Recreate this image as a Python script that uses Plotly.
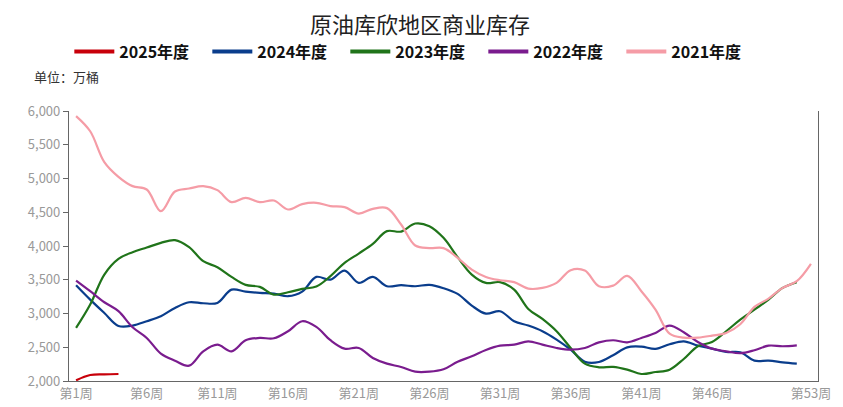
import plotly.graph_objects as go

weeks = list(range(1, 54))
tick_weeks = [1, 6, 11, 16, 21, 26, 31, 36, 41, 46, 53]
tick_labels = [f"第{w}周" for w in tick_weeks]
boundary_ticks = [0.5, 5.5, 10.5, 15.5, 20.5, 25.5, 30.5, 35.5, 40.5, 45.5, 50.5, 53.5]

y2025 = [2010, 2089, 2099, 2104]
y2024 = [3419, 3206, 3008, 2816, 2821, 2885, 2959, 3083, 3167, 3152, 3157, 3354, 3324,
         3305, 3295, 3256, 3324, 3542, 3502, 3636, 3453, 3542, 3404, 3419, 3404, 3424,
         3375, 3290, 3117, 2998, 3034, 2885, 2821, 2737, 2613, 2464, 2286, 2282, 2381,
         2499, 2509, 2475, 2544, 2588, 2524, 2479, 2430, 2426, 2301, 2301, 2277, 2257]
y2023 = [2786, 3132, 3577, 3809, 3908, 3977, 4047, 4087, 3983, 3775, 3686, 3542, 3424,
         3394, 3280, 3315, 3364, 3399, 3553, 3750, 3888, 4032, 4220, 4214, 4333, 4294,
         4121, 3834, 3577, 3453, 3464, 3354, 3068, 2919, 2737, 2489, 2257, 2203, 2208,
         2168, 2104, 2133, 2168, 2326, 2515, 2578, 2737, 2909, 3057, 3206, 3379, 3464]
y2022 = [3487, 3330, 3167, 3034, 2796, 2638, 2405, 2301, 2227, 2440, 2538, 2440, 2604,
         2638, 2633, 2737, 2885, 2801, 2604, 2479, 2489, 2341, 2257, 2208, 2138, 2138,
         2173, 2286, 2366, 2460, 2524, 2538, 2588, 2538, 2489, 2464, 2489, 2573, 2604,
         2573, 2638, 2712, 2821, 2722, 2578, 2479, 2440, 2411, 2455, 2524, 2515, 2529]
y2021 = [5925, 5700, 5243, 5025, 4887, 4837, 4517, 4807, 4852, 4887, 4828, 4650, 4714,
         4650, 4674, 4541, 4620, 4640, 4591, 4576, 4481, 4551, 4561, 4318, 4007, 3968,
         3968, 3824, 3651, 3542, 3493, 3464, 3369, 3379, 3453, 3642, 3636, 3404, 3413,
         3557, 3330, 3057, 2701, 2642, 2642, 2672, 2712, 2841, 3097, 3221, 3379, 3478, 3735]

series = [
    ("2025年度", y2025, "#c8000a"),
    ("2024年度", y2024, "#0a3d8c"),
    ("2023年度", y2023, "#20741a"),
    ("2022年度", y2022, "#7a1c8e"),
    ("2021年度", y2021, "#f59ca6"),
]

fig = go.Figure()
for name, vals, color in series:
    fig.add_trace(go.Scatter(
        x=weeks[:len(vals)], y=vals, mode="lines", name=name,
        line=dict(color=color, width=2.2, shape="spline", smoothing=1.0),
        showlegend=False, hoverinfo="x+y"))
for name, vals, color in series:
    fig.add_trace(go.Scatter(
        x=[None], y=[None], mode="lines", name=name,
        line=dict(color=color, width=4), showlegend=True))

fig.update_layout(
    width=843, height=407,
    margin=dict(l=61, r=33, t=103, b=34),
    paper_bgcolor="white", plot_bgcolor="white",
    font=dict(family="Noto Sans CJK SC", color="#999999", size=13),
    legend=dict(orientation="h", x=0.482, xref="container", xanchor="center",
                y=0.893, yref="container", yanchor="middle",
                font=dict(size=16, color="#111111", family="Noto Sans CJK SC", weight="bold"),
                entrywidth=83, entrywidthmode="pixels",
                itemwidth=40, tracegroupgap=0),
    xaxis=dict(range=[0.5, 53.5], tickmode="array", tickvals=tick_weeks, ticktext=tick_labels,
               ticks="", showline=True, linecolor="#666666", linewidth=1.2,
               showgrid=False, zeroline=False, tickfont=dict(size=13, color="#999999")),
    xaxis2=dict(range=[0.5, 53.5], overlaying="x", anchor="y", side="bottom",
                tickmode="array", tickvals=boundary_ticks, ticks="outside", ticklen=5,
                tickcolor="#666666", showticklabels=False, showline=False,
                showgrid=False, zeroline=False),
    yaxis=dict(range=[2000, 6000], tickmode="array",
               tickvals=[2000, 2500, 3000, 3500, 4000, 4500, 5000, 5500, 6000],
               tickformat=",", ticks="outside", ticklen=5, tickcolor="#666666",
               showline=True, linecolor="#666666", linewidth=1.2, mirror=True,
               showgrid=False, zeroline=False, tickfont=dict(size=13, color="#999999")),
    annotations=[
        dict(text="原油库欣地区商业库存", xref="paper", yref="paper", x=0.468, y=1.327,
             xanchor="center", yanchor="middle", showarrow=False,
             font=dict(size=22, color="#222222", family="Noto Sans CJK SC")),
        dict(text="单位：万桶", xref="paper", yref="paper", x=-0.05, y=1.128,
             xanchor="left", yanchor="middle", showarrow=False,
             font=dict(size=13, color="#333333")),
    ],
)

fig.write_html("out.html")
